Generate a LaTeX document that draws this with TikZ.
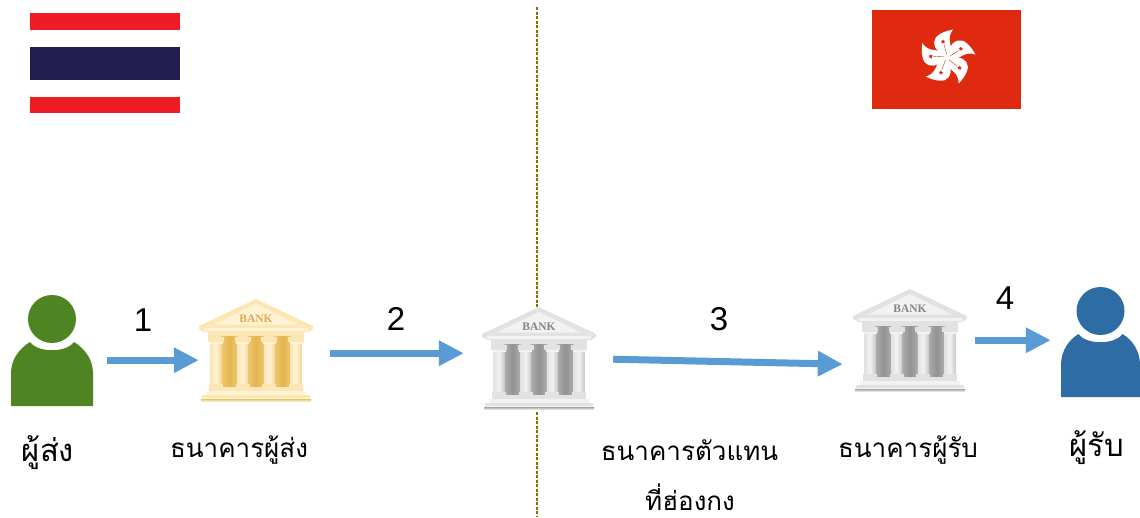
\documentclass[tikz,border=0pt]{standalone}
\usepackage{fontspec}
\setmainfont{Liberation Sans}
\newfontfamily\thaifont[Script=Thai]{Loma}
\newfontfamily\bankfont{Liberation Serif}
\usetikzlibrary{arrows.meta,calc}
\definecolor{flow}{HTML}{5B9BD5}
\definecolor{sendergreen}{HTML}{4E8421}
\definecolor{receiverblue}{HTML}{2E6CA6}
\definecolor{thred}{HTML}{EE1C25}
\definecolor{thblue}{HTML}{241D4F}
\definecolor{hkred}{HTML}{E02A0F}
\definecolor{divider}{HTML}{8A6D00}
\definecolor{gpale}{HTML}{FFF3D6}
\definecolor{glight}{HTML}{FBE6B4}
\definecolor{gcol}{HTML}{F3D695}
\definecolor{gmid}{HTML}{EFCB78}
\definecolor{gdark}{HTML}{E5B550}
\definecolor{gtext}{HTML}{DFA94A}
\definecolor{spale}{HTML}{F2F2F2}
\definecolor{slight}{HTML}{E2E2E2}
\definecolor{scol}{HTML}{C8C8C8}
\definecolor{smid}{HTML}{B4B4B4}
\definecolor{sdark}{HTML}{929292}
\definecolor{stext}{HTML}{858585}
\tikzset{
  flowarrow/.style={draw=flow,line width=7pt,-{Triangle[length=25pt,width=24pt,fill=flow]},shorten <=0pt},
  thailabel/.style={font=\thaifont\fontsize{26}{34}\selectfont,text=black,align=center,inner sep=0pt},
  thaibig/.style={thailabel,font=\thaifont\fontsize{31}{36}\selectfont},
  numlabel/.style={font=\fontsize{33}{36}\selectfont,text=black,inner sep=0pt},
  iconbox/.style={inner sep=0pt,minimum width=#1},
  dividerline/.style={draw=divider,line width=1.2pt,dash pattern=on 3pt off 1.5pt},
}
% \bankicon{name}{apex x}{apex y}{prefix letter: g or s}
\newcommand{\bankicon}[4]{%
\begin{scope}[shift={(#2,#3)}]
  \fill[white] (-57,28) -- (0,0) -- (57,28) -- (57,34) -- (50,38) -- (46,88) -- (56,98) -- (56,104) -- (-56,104) -- (-56,98) -- (-46,88) -- (-50,38) -- (-57,34) -- cycle;
  % pediment
  \fill[#4light] (0,0) -- (-57,27) -- (-57,30) -- (-52,33) -- (52,33) -- (57,30) -- (57,27) -- cycle;
  \fill[#4pale] (0,5) -- (-42,25.5) -- (42,25.5) -- cycle;
  \fill[#4pale] (-52,29) rectangle (52,31.5);
  \fill[#4light] (-48,33) rectangle (48,38);
  \node[font=\bankfont\bfseries\fontsize{11.5}{12}\selectfont,text=#4text,inner sep=0pt] at (0,19.5) {BANK};
  % dark recesses
  \foreach \cx in {-26.5,0,26.5}{
    \shade[left color=#4mid,right color=#4mid,middle color=#4dark,rounded corners=3pt] (\cx-10,37) rectangle (\cx+10,89);
  }
  % columns
  \foreach \cx in {-40,-13.3,13.3,40}{
    \shade[left color=#4light,right color=#4col,middle color=#4pale] (\cx-5.5,42) rectangle (\cx+5.5,87);
    \fill[#4light] (\cx-8,38) rectangle (\cx+8,43);
    \fill[#4pale] (\cx-6.5,43) rectangle (\cx+6.5,45);
    \fill[#4light] (\cx-7,85) rectangle (\cx+7,88);
  }
  % steps
  \fill[#4light] (-47,88) rectangle (47,92);
  \fill[#4pale] (-50,92) rectangle (50,96);
  \fill[#4light] (-54,96) rectangle (54,99);
  \fill[#4pale] (-55,99) rectangle (55,100.5);
  \shade[top color=#4mid,bottom color=white] (-55,100.5) rectangle (55,103);
  \node[iconbox=114pt,minimum height=104pt,anchor=north] (#1) at (0,0) {};
\end{scope}}
% \personicon{name}{cx}{head cy}{bottom}{half width}{colour}
\newcommand{\personicon}[6]{%
\begin{scope}[shift={(#2,#3)}]
  \fill[#6] (0,0) circle (24);
  \fill[#6] (-#5,#4) -- (-#5,54) .. controls (-#5,40) and (-32,29) .. (-22,23)
    .. controls (-14,34) and (14,34) .. (22,23)
    .. controls (32,29) and (#5,40) .. (#5,54) -- (#5,#4) -- cycle;
  \node[iconbox=2*#5 pt,minimum height=#4 pt + 24pt,anchor=north] (#1) at (0,-24) {};
\end{scope}}
\begin{document}
\begin{tikzpicture}[x=1pt,y=-1pt]
\useasboundingbox (0,0) rectangle (1140,517);
% divider
\coordinate (divtop) at (537,7);
\coordinate (divbot) at (537,516);
\draw[dividerline] (divtop) -- (divbot);
% Thai flag
\fill[thred] (30,13) rectangle (180,30);
\fill[thblue] (30,47) rectangle (180,80);
\fill[thred] (30,97) rectangle (180,113);
% Hong Kong flag
\fill[hkred] (872,10) rectangle (1021,109);
\begin{scope}[shift={(947,57.5)}]
  \foreach \r in {0,72,144,216,288}{
    \begin{scope}[rotate=\r]
      \fill[white] (0,0) .. controls (-6,-3) and (-13,-8) .. (-13,-15)
        .. controls (-13,-22) and (-4,-26) .. (6,-28)
        .. controls (3,-24) and (2,-20) .. (3,-15)
        .. controls (4.5,-10) and (4,-5) .. (0,0) -- cycle;
      \fill[hkred] (-4,-18) -- (-3.2,-16.7) -- (-1.9,-16.6) -- (-2.8,-15.4) -- (-2.4,-14) -- (-4,-14.7) -- (-5.6,-14) -- (-5.2,-15.4) -- (-6.1,-16.6) -- (-4.8,-16.7) -- cycle;
      \draw[hkred,line width=0.4pt] (-0.3,-3) .. controls (-1,-6) and (-2,-9) .. (-3,-13);
    \end{scope}
  }
\end{scope}
% icons
\personicon{sender}{52}{319}{87}{41}{sendergreen}
\bankicon{senderbank}{256}{299}{g}
\bankicon{corrbank}{539}{307}{s}
\bankicon{receiverbank}{910}{289}{s}
\personicon{receiver}{1100.5}{311}{86}{39.5}{receiverblue}
% connectors
\draw[flowarrow] ($(sender.east)+(14,9.5)$) -- ($(senderbank.west)+(0,9)$);
\draw[flowarrow] ($(senderbank.east)+(17,2)$) -- ($(corrbank.west)+(-18,-6)$);
\draw[flowarrow] ($(corrbank.east)+(17,0)$) -- ($(receiverbank.west)+(-10,23)$);
\draw[flowarrow] ($(receiverbank.east)+(8,-1)$) -- ($(receiver.west)+(-10,-2)$);
% numbers
\node[numlabel] (n1) at (143,320) {1};
\node[numlabel] (n2) at (396,319) {2};
\node[numlabel] (n3) at (719,319) {3};
\node[numlabel] (n4) at (1005,298) {4};
% labels
\node[thaibig] (l1) at (48,453) {ผู้ส่ง};
\node[thailabel] (l2) at (239,450) {ธนาคารผู้ส่ง};
\node[thailabel] (l3) at (689.5,450) {ธนาคารตัวแทน};
\node[thailabel] (l3b) at (690,497) {ที่ฮ่องกง};
\node[thailabel] (l4) at (908,450) {ธนาคารผู้รับ};
\node[thaibig] (l5) at (1097,448) {ผู้รับ};
\end{tikzpicture}
\end{document}
